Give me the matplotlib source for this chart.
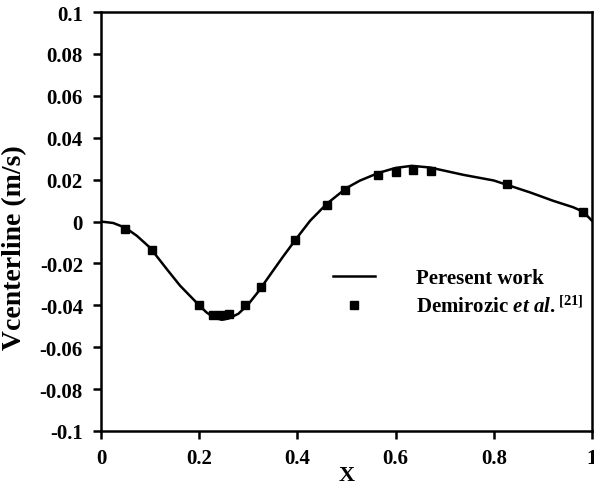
import matplotlib
matplotlib.use("Agg")
import matplotlib.pyplot as plt

# Present work (line)
line_x = [0.0, 0.025, 0.05, 0.073, 0.10, 0.134, 0.161, 0.20, 0.215, 0.23, 0.246, 0.26, 0.28,
          0.30, 0.32, 0.341, 0.37, 0.40, 0.426, 0.46, 0.50, 0.527, 0.565, 0.60, 0.633,
          0.67, 0.738, 0.80, 0.874, 0.921, 0.962, 0.982, 1.0]
line_y = [0.0, -0.0007, -0.0030, -0.0068, -0.0125, -0.0227, -0.0306, -0.0400, -0.0434, -0.0458, -0.0469, -0.0463, -0.0440,
          -0.0395, -0.0336, -0.0266, -0.0170, -0.0075, 0.0004, 0.0085, 0.0160, 0.0195, 0.0232, 0.0256, 0.0266,
          0.0258, 0.0223, 0.0196, 0.0139, 0.0099, 0.0068, 0.0047, 0.0004]

# Demirozic et al. [21] (markers)
ref_x = [0.049, 0.103, 0.200, 0.229, 0.244, 0.261, 0.293, 0.326, 0.395, 0.460, 0.497,
         0.565, 0.601, 0.636, 0.672, 0.826, 0.982]
ref_y = [-0.0036, -0.0136, -0.0397, -0.0445, -0.0448, -0.0442, -0.0397, -0.0311, -0.0087, 0.0080, 0.0150,
         0.0223, 0.0238, 0.0247, 0.0240, 0.0178, 0.0047]

xticks = [0, 0.2, 0.4, 0.6, 0.8, 1]
xtick_labels = ["0", "0.2", "0.4", "0.6", "0.8", "1"]
yticks = [-0.1, -0.08, -0.06, -0.04, -0.02, 0, 0.02, 0.04, 0.06, 0.08, 0.1]
ytick_labels = ["-0.1", "-0.08", "-0.06", "-0.04", "-0.02", "0", "0.02", "0.04", "0.06", "0.08", "0.1"]

plt.rcParams['font.family'] = ['Liberation Serif', 'DejaVu Serif']
plt.rcParams['mathtext.fontset'] = 'custom'
plt.rcParams['mathtext.rm'] = 'Liberation Serif:bold'
plt.rcParams['mathtext.it'] = 'Liberation Serif:italic:bold'

fig = plt.figure(figsize=(5.94, 4.85), dpi=100)
ax = fig.add_axes([0.170, 0.1093, 0.8266, 0.8637])

ax.plot(line_x, line_y, color='black', lw=1.8, label='Peresent work')
ax.plot(ref_x, ref_y, linestyle='none', marker='s', ms=5.5, color='black',
        label=r'Demirozic $\mathit{et\ al.}^{\mathrm{[21]}}$')

ax.set_xlim(0, 1)
ax.set_ylim(-0.1, 0.1)
ax.set_xticks(xticks)
ax.set_xticklabels(xtick_labels, fontweight='bold', fontsize=15)
ax.set_yticks(yticks)
ax.set_yticklabels(ytick_labels, fontweight='bold', fontsize=15)
ax.tick_params(direction='out', length=6, width=1.8)
ax.tick_params(axis='x', pad=6)
ax.tick_params(axis='y', pad=7)

for s in ax.spines.values():
    s.set_linewidth(1.8)

ax.set_xlabel('X', fontweight='bold', fontsize=16, labelpad=-2)
ax.set_ylabel('Vcenterline (m/s)', fontweight='bold', fontsize=20)
ax.yaxis.set_label_coords(-0.15, 0.44)

leg = ax.legend(loc='upper left', bbox_to_anchor=(0.4725, 0.388), frameon=False,
                prop={'weight': 'bold', 'size': 15}, borderpad=0, borderaxespad=0,
                handlelength=2.0, handletextpad=2.0, labelspacing=0.35)

fig.savefig('out.png', dpi=100)
